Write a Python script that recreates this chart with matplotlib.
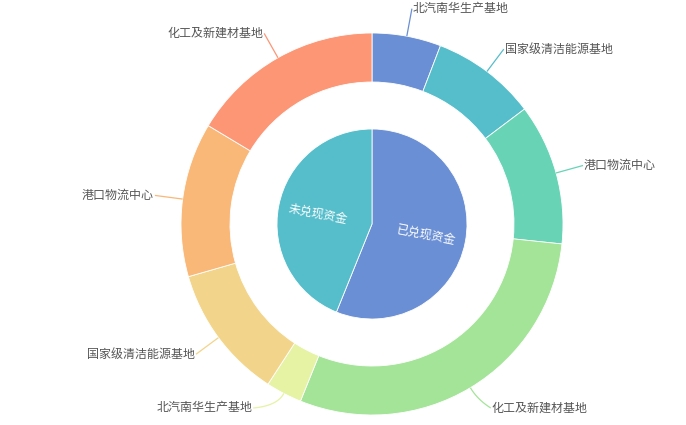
import numpy as np
import matplotlib
matplotlib.use("Agg")
import matplotlib.pyplot as plt

plt.rcParams['font.family'] = ['Noto Sans CJK SC', 'DejaVu Sans']

# Inner pie
inner_labels = ['已兑现资金', '未兑现资金']
inner_values = [202, 158]
inner_colors = ['#6a8fd4', '#56bdcb']

# Outer ring (clockwise from top)
outer_labels = ['北汽南华生产基地', '国家级清洁能源基地', '港口物流中心', '化工及新建材基地',
                '北汽南华生产基地', '国家级清洁能源基地', '港口物流中心', '化工及新建材基地']
outer_values = [21, 32, 43, 106, 11, 41, 47, 59]
outer_colors = ['#6a8fd4', '#56bdcb', '#68d4b5', '#a4e498',
                '#e6f2a4', '#f2d58b', '#f9b878', '#fc9675']

W, H = 686, 425
fig = plt.figure(figsize=(W / 100, H / 100), dpi=100)
ax = fig.add_axes([0, 0, 1, 1])

cx, cy = 372, H - 224
R_out, ring_w = 191, 49
R_in = 95
FS = 12 * 72 / 100

ax.pie(outer_values, colors=outer_colors, radius=R_out, center=(cx, cy),
       startangle=90, counterclock=False,
       wedgeprops=dict(width=ring_w, edgecolor='white', linewidth=0.6), frame=True)
ax.pie(inner_values, colors=inner_colors, radius=R_in, center=(cx, cy),
       startangle=90, counterclock=False,
       wedgeprops=dict(edgecolor='white', linewidth=0.6), frame=True)
ax.set_xlim(0, W)
ax.set_ylim(0, H)
ax.set_aspect('equal')
ax.axis('off')

# inner labels
tot = sum(inner_values)
acc = 0
for lab, v in zip(inner_labels, inner_values):
    mid = (acc + v / 2) / tot * 360
    acc += v
    ang = np.deg2rad(90 - mid)
    r = R_in * 0.58
    x, y = cx + r * np.cos(ang), cy + r * np.sin(ang)
    rot = 90 - mid
    while rot > 90:
        rot -= 180
    while rot < -90:
        rot += 180
    ax.text(x, y, lab, color='white', fontsize=FS, rotation=rot,
            rotation_mode='anchor', ha='center', va='center')

# outer labels
tot = sum(outer_values)
acc = 0
r1 = R_out + 28
y_min = H - 408  # keep labels inside the canvas (pixel y <= 408)
for lab, v, c in zip(outer_labels, outer_values, outer_colors):
    mid = (acc + v / 2) / tot * 360
    acc += v
    ang = np.deg2rad(90 - mid)
    ca, sa = np.cos(ang), np.sin(ang)
    x0, y0 = cx + R_out * ca, cy + R_out * sa
    x1, y1 = cx + r1 * ca, cy + r1 * sa
    if y1 < y_min:
        y1 = y_min
        dx = np.sqrt(max(r1 ** 2 - (cy - y1) ** 2, 0))
        x1 = cx + np.sign(ca) * dx
        # smooth curve via quadratic bezier
        rc = R_out + 14
        xc, yc = cx + rc * ca, cy + rc * sa
        t = np.linspace(0, 1, 30)
        bx = (1 - t) ** 2 * x0 + 2 * (1 - t) * t * xc + t ** 2 * x1
        by = (1 - t) ** 2 * y0 + 2 * (1 - t) * t * yc + t ** 2 * y1
        ax.plot(bx, by, color=c, lw=0.9, solid_capstyle='butt')
    else:
        ax.plot([x0, x1], [y0, y1], color=c, lw=0.9, solid_capstyle='butt')
    if ca >= 0:
        ax.text(x1 + 1, y1, lab, color='#555555', fontsize=FS, ha='left', va='center')
    else:
        ax.text(x1 - 1, y1, lab, color='#555555', fontsize=FS, ha='right', va='center')

fig.savefig('out.png', dpi=100)
